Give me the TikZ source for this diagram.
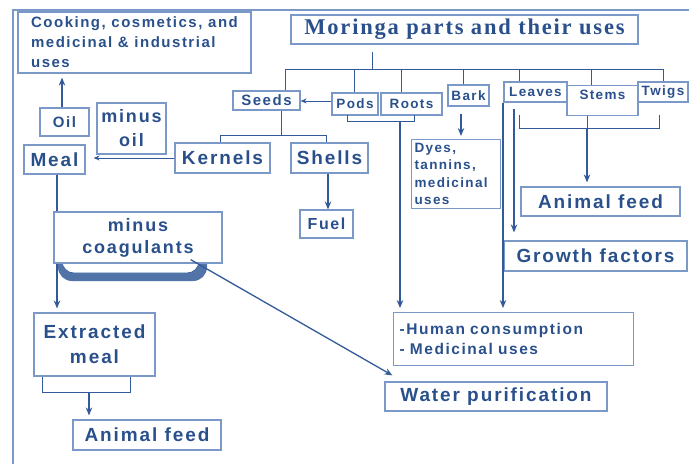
\documentclass[tikz,border=0pt]{standalone}
\usepackage{fontspec}
\setmainfont{Liberation Sans}[LetterSpace=10]
\newfontfamily\headfont{Liberation Serif}[LetterSpace=8]
\usetikzlibrary{arrows.meta,calc}
\definecolor{txtblue}{RGB}{42,80,140}
\definecolor{boxblue}{RGB}{122,152,200}
\definecolor{lnblue}{RGB}{50,90,152}
\newcommand{\fsz}[2]{\fontsize{#1}{#2}\selectfont}

\begin{document}
\begin{tikzpicture}[x=1pt,y=-1pt,
    box/.style={draw=boxblue, line width=1.2pt, text=txtblue, inner sep=0pt, align=center},
    sz/.style 2 args={font=\bfseries\fsz{#1}{#2}},
    link/.style={draw=lnblue, line width=1.5pt},
    arr/.style={link, -{Stealth[length=8pt,width=6.5pt]}},
    tick/.style={draw=lnblue, line width=0.9pt}]
    \useasboundingbox (0,0) rectangle (689,464);
    % Frame
    \draw[boxblue, line width=1.2pt] (13,464) -- (13,10) -- (689,10);

    % Parts
    \node[box, font=\headfont\bfseries\fsz{22.5}{24}, minimum width=347, minimum height=29] (title) at (464.5,29.5) {Moringa parts and their uses};
    \node[box, sz={15}{18}, minimum width=67, minimum height=19] (seeds) at (266.5,100.5) {Seeds};
    \node[box, sz={13.5}{16}, minimum width=46, minimum height=22] (pods) at (355,104) {Pods};
    \node[box, sz={13.5}{16}, minimum width=61, minimum height=22] (roots) at (411.5,104) {Roots};
    \node[box, sz={13.5}{16}, minimum width=41, minimum height=21] (bark) at (468.5,95.5) {Bark};
    \node[box, sz={13.5}{16}, minimum width=63, minimum height=20] (leaves) at (535.5,92) {Leaves};
    \node[box, sz={13.5}{16}, minimum width=71, minimum height=30, text height=10, text depth=12, anchor=north] (stems) at (602.5,85) {Stems};
    \node[box, sz={13.5}{16}, minimum width=50, minimum height=20] (twigs) at (663,92) {Twigs};

    % Bus from title
    \coordinate (bus) at (372,69);
    \foreach \n/\x in {b1/285, b2/354, b3/401, b4/463, b5/519, b6/591, b7/663}
        \coordinate (\n) at (\x,69);
    \draw[tick] ($(title.south -| bus)+(0,7)$) -- (bus);
    \draw[tick] (b1) -- (b7);
    \draw[tick] (b1) -- (b1 |- seeds.north);
    \draw[tick] (b2) -- (b2 |- pods.north);
    \draw[tick] (b3) -- (b3 |- roots.north);
    \draw[tick] (b4) -- (b4 |- bark.north);
    \draw[tick] (b5) -- (b5 |- leaves.north);
    \draw[tick] (b6) -- (b6 |- stems.north);
    \draw[tick] (b7) -- (b7 |- twigs.north);

    % Uses
    \node[box, sz={15}{20}, align=left, minimum width=233, minimum height=61] (cook) at (134.5,42.5) {Cooking, cosmetics, and\\medicinal \& industrial\\uses};
    \node[box, sz={15}{18}, minimum width=49, minimum height=28] (oil) at (64.5,122) {Oil};
    \node[box, sz={18}{24}, minimum width=69, minimum height=51] (minusoil) at (131.5,128.5) {minus\\oil};
    \node[box, sz={19}{22}, minimum width=61, minimum height=29] (meal) at (54.5,159.5) {Meal};
    \node[box, sz={19}{22}, minimum width=95, minimum height=30] (kernels) at (222.5,158) {Kernels};
    \node[box, sz={19}{22}, minimum width=77, minimum height=30] (shells) at (329.5,158) {Shells};
    \node[box, sz={16}{19}, minimum width=53, minimum height=28] (fuel) at (326.5,224) {Fuel};
    \node[box, sz={13.5}{17.5}, align=left, text width=83, inner xsep=3, minimum height=69, anchor=north west] (dyes) at (411,139) {Dyes,\\tannins,\\medicinal\\uses};
    \node[box, sz={19}{22}, minimum width=159, minimum height=29] (feedR) at (600.5,201.5) {Animal feed};
    \node[box, sz={19}{22}, minimum width=183, minimum height=30] (growth) at (595.5,256) {Growth factors};
    \node[box, sz={15.5}{20}, align=left, text width=228, inner xsep=6, inner ysep=3, minimum height=53, anchor=north west] (human) at (393,312) {-Human consumption\\- Medicinal uses\\[-6pt]};
    \node[box, sz={19}{22}, minimum width=222, minimum height=29] (water) at (496,396.5) {Water purification};

    % Coagulant tab
    \fill[lnblue!85, rounded corners=14] (58,214) rectangle (207,281);
    \draw[lnblue, line width=0.6pt, fill=white, rounded corners=12] (62,213) rectangle (199,273);
    \node[box, fill=white, sz={18}{22}, minimum width=168, minimum height=51] (coag) at (138,237.5) {minus\\coagulants};
    \node[box, sz={19}{25}, minimum width=121, minimum height=63] (extracted) at (94.5,344.5) {Extracted\\meal};
    \node[box, sz={19}{22}, minimum width=148, minimum height=30] (feedL) at (147,435) {Animal feed};

    % Seed branch
    \coordinate (sk) at (281,135);
    \draw[tick] (sk |- seeds.south) -- (sk);
    \draw[tick] (220,135) -- (326,135);
    \draw[tick] (220,135) -- (220,135 |- kernels.north);
    \draw[tick] (326,135) -- (326,135 |- shells.north);
    \draw[arr, -{Stealth[length=6pt,width=5pt]}, line width=1pt] ([yshift=3pt]pods.west) -- ([yshift=3pt]pods.west -| seeds.east);
    \draw[arr, line width=1pt, -{Stealth[length=6pt,width=5pt]}, shorten >=8pt] (kernels.west) -- (kernels.west -| meal.east);
    \draw[arr] (shells.south -| 328,0) -- (fuel.north -| 328,0);
    \draw[arr, shorten >=4pt] (oil.north -| 62,0) -- (cook.south -| 62,0);
    \draw[link] (meal.south -| 57,0) -- (coag.north -| 57,0);
    \draw[arr, shorten >=4pt] (coag.south -| 57,0) -- (extracted.north -| 57,0);
    \draw[arr, line width=1.3pt] ($(coag.south east)+(-32,-4)$) -- ($(water.north west)+(8,-6)$);

    % Extracted meal bracket
    \coordinate (em) at (89,392);
    \draw[tick] (42,377) -- (42,392) -- (130,392) -- (130,377);
    \draw[arr, shorten >=4pt] (em) -- (em |- feedL.north);

    % Pods and roots
    \coordinate (pr) at (400,121);
    \draw[tick] (347,115) -- (347,121) -- (414,121) -- (414,115);
    \draw[arr, shorten >=4pt] (pr) -- (pr |- human.north);

    % Bark
    \draw[arr] ($(bark.south)+(-7.5,7)$) -- ($(bark.south |- dyes.north)+(-7.5,-3)$);

    % Leaves, stems, twigs
    \coordinate (ls) at (587,128);
    \draw[tick] (519,115) -- (519,128) -- (659,128) -- (659,115);
    \draw[tick] (ls |- stems.south) -- (ls);
    \draw[arr, shorten >=4pt] (ls) -- (ls |- feedR.north);
    \draw[arr, shorten >=4pt] (leaves.south -| 503,0) -- (human.north -| 503,0);
    \draw[arr, shorten >=8pt] ($(leaves.south -| 514,0)+(0,6)$) -- (growth.north -| 514,0);
\end{tikzpicture}
\end{document}
